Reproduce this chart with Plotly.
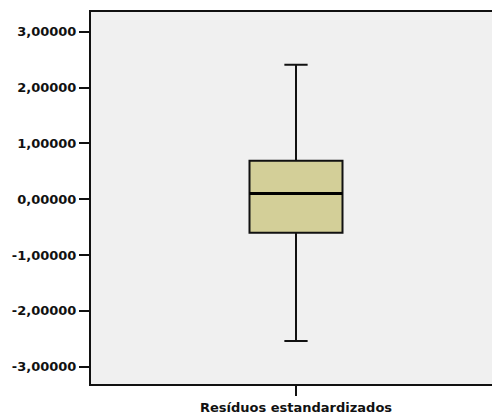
import plotly.graph_objects as go

# Data
category = ["Resíduos estandardizados"]
lower_whisker = [-2.54]
q1_values = [-0.60]
median_values = [0.10]
q3_values = [0.69]
upper_whisker = [2.41]

y_tick_values = [3, 2, 1, 0, -1, -2, -3]
y_tick_labels = ["3,00000", "2,00000", "1,00000", "0,00000", "-1,00000", "-2,00000", "-3,00000"]

box_width = 0.93

fig = go.Figure()
fig.add_trace(go.Box(
    x=category,
    q1=q1_values,
    median=median_values,
    q3=q3_values,
    lowerfence=lower_whisker,
    upperfence=upper_whisker,
    fillcolor="#d3cf98",
    line=dict(color="#111111", width=2),
    width=box_width,
    whiskerwidth=0.25,
    boxpoints=False,
    hoverinfo="skip",
    showlegend=False,
))

# thicker median line, as in the reference
for i, m in enumerate(median_values):
    fig.add_shape(
        type="line", xref="x", yref="y",
        x0=i - box_width / 2, x1=i + box_width / 2,
        y0=m, y1=m,
        line=dict(color="#000000", width=3),
    )

fig.update_layout(
    width=492,
    height=414,
    margin=dict(l=91, r=0, t=12, b=30),
    paper_bgcolor="white",
    plot_bgcolor="#f0f0f0",
    showlegend=False,
    xaxis=dict(
        type="category",
        range=[-2.05, 1.96],
        showgrid=False,
        zeroline=False,
        showline=True,
        linecolor="#111111",
        linewidth=2,
        mirror=True,
        ticks="outside",
        ticklen=10,
        tickwidth=2,
        tickcolor="#111111",
        tickfont=dict(family="DejaVu Sans", size=13, color="#111111", weight="bold"),
        ticklabelstandoff=0,
        automargin=False,
    ),
    yaxis=dict(
        range=[-3.31, 3.353],
        tickvals=y_tick_values,
        ticktext=y_tick_labels,
        showgrid=False,
        zeroline=False,
        showline=True,
        linecolor="#111111",
        linewidth=2,
        ticks="outside",
        ticklen=10,
        tickwidth=2,
        tickcolor="#111111",
        tickfont=dict(family="DejaVu Sans", size=13, color="#111111", weight="bold"),
        automargin=False,
    ),
)

fig.write_html(
    "out.html",
    config={"displayModeBar": False},
    post_script="document.body.style.margin='0';document.body.style.overflow='hidden';",
)
